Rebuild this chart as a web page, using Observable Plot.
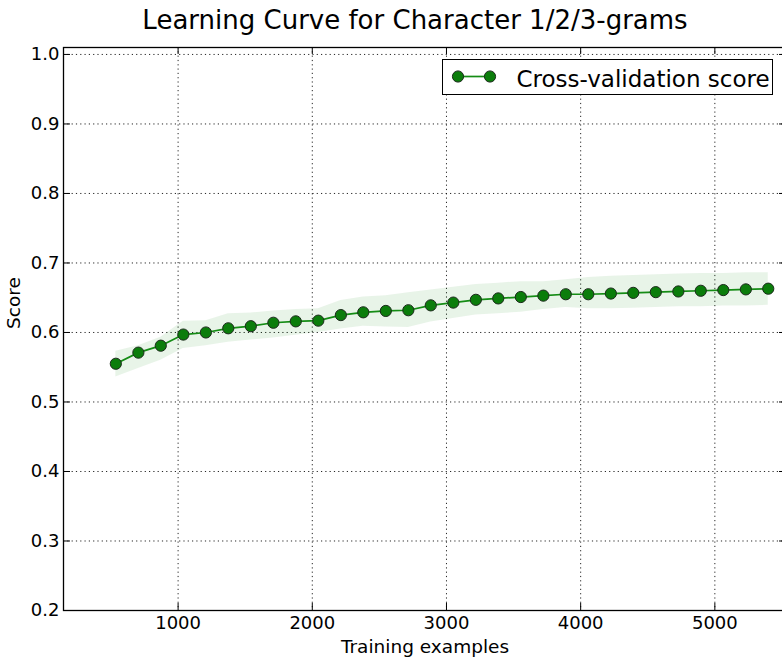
<!DOCTYPE html>
<html><head><meta charset="utf-8">
<script src="https://cdn.jsdelivr.net/npm/d3@7"></script>
<script src="https://cdn.jsdelivr.net/npm/@observablehq/plot@0.6"></script>
<style>
html,body{margin:0;padding:0;background:#fff;overflow:hidden;width:782px;height:659px;}
#wrap{position:relative;width:782px;height:659px;overflow:hidden;font-family:"DejaVu Sans",sans-serif;color:#000;}
#title{position:absolute;left:0;top:7px;width:830px;text-align:center;font-size:26px;line-height:1;white-space:nowrap;}
#chart{position:absolute;left:0;top:40px;width:786px;}
#chart svg{max-width:none !important;width:786px;height:619px;display:block;}
#legend{position:absolute;left:442px;top:59px;width:331px;height:36px;box-sizing:border-box;border:1px solid #000;background:#fff;}
</style>
</head><body>
<div id="wrap">
  <div id="title">Learning Curve for Character 1/2/3-grams</div>
  <div id="chart"></div>
  <div id="legend"></div>
</div>
<script>
const trainSizes = [536, 704, 871, 1039, 1207, 1374, 1542, 1710, 1877, 2045, 2213, 2380, 2548, 2716, 2883,
  3051, 3219, 3386, 3554, 3722, 3889, 4057, 4225, 4392, 4560, 4728, 4895, 5063, 5231, 5398];
const cvScore = [0.555, 0.571, 0.581, 0.597, 0.600, 0.606, 0.609, 0.614, 0.616, 0.617, 0.625, 0.629, 0.631, 0.632, 0.639,
  0.643, 0.647, 0.649, 0.651, 0.653, 0.655, 0.655, 0.656, 0.657, 0.658, 0.659, 0.660, 0.661, 0.662, 0.663];
const cvUpper = [0.573, 0.581, 0.593, 0.616, 0.617, 0.627, 0.628, 0.631, 0.633, 0.634, 0.646, 0.651, 0.653, 0.657, 0.661,
  0.665, 0.669, 0.671, 0.673, 0.673, 0.676, 0.679, 0.681, 0.682, 0.683, 0.684, 0.685, 0.685, 0.686, 0.686];
const cvLower = [0.536, 0.548, 0.560, 0.577, 0.581, 0.586, 0.589, 0.592, 0.596, 0.600, 0.605, 0.609, 0.608, 0.607, 0.615,
  0.620, 0.625, 0.627, 0.629, 0.633, 0.636, 0.634, 0.634, 0.635, 0.636, 0.637, 0.637, 0.638, 0.638, 0.639];
const xTicks = [1000, 2000, 3000, 4000, 5000];
const yTicks = [0.2, 0.3, 0.4, 0.5, 0.6, 0.7, 0.8, 0.9, 1.0];
const seriesName = "Cross-validation score";

const data = trainSizes.map((n, i) => ({n, s: cvScore[i], hi: cvUpper[i], lo: cvLower[i]}));

const W = 786, H = 619, mT = 7, mB = 49, mL = 63, mR = 0;
const pw = W - mL - mR, ph = H - mT - mB, tl = 7;
const grid = {stroke: "#000", strokeOpacity: 0.85, strokeWidth: 1, strokeDasharray: "1.2,3.1"};
const green = "#0b7d0b";

const chart = Plot.plot({
  width: W, height: H,
  marginTop: mT, marginBottom: mB, marginLeft: mL, marginRight: mR,
  style: {fontFamily: "DejaVu Sans, sans-serif", fontSize: "18px", color: "#000", background: "transparent", overflow: "visible"},
  x: {domain: [146, 5534], label: null},
  y: {domain: [0.2, 1.01], label: null},
  marks: [
    Plot.gridX(xTicks, grid),
    Plot.gridY(yTicks, grid),
    Plot.areaY(data, {x: "n", y1: "lo", y2: "hi", fill: "#008000", fillOpacity: 0.09}),
    Plot.line(data, {x: "n", y: "s", stroke: "#158c15", strokeWidth: 1.7}),
    Plot.dot(data, {x: "n", y: "s", r: 5.6, fill: green, stroke: "#1c2a1c", strokeWidth: 1}),
    Plot.tickY(yTicks, {y: d => d, stroke: "#000", insetRight: pw - tl}),
    Plot.tickY(yTicks, {y: d => d, stroke: "#000", insetLeft: pw - tl}),
    Plot.tickX(xTicks, {x: d => d, stroke: "#000", insetBottom: ph - tl}),
    Plot.tickX(xTicks, {x: d => d, stroke: "#000", insetTop: ph - tl}),
    Plot.axisX(xTicks, {tickSize: 0, tickPadding: 6, fontSize: 18, tickFormat: d => String(d), label: null}),
    Plot.axisY(yTicks, {tickSize: 0, tickPadding: 4, fontSize: 18, tickFormat: d => d.toFixed(1), label: null}),
    Plot.frame({stroke: "#000", strokeWidth: 1.3}),
    Plot.text(["Training examples"], {text: d => d, frameAnchor: "bottom", dy: 42, fontSize: 18.5}),
    Plot.text(["Score"], {text: d => d, frameAnchor: "left", rotate: -90, dx: -49.5, fontSize: 18.5})
  ]
});
chart.style.maxWidth = "none";
document.getElementById("chart").appendChild(chart);

// legend
const lg = d3.select("#legend").append("svg").attr("width", 329).attr("height", 34)
  .style("position", "absolute").style("left", "0").style("top", "0");
lg.append("line").attr("x1", 15).attr("x2", 47).attr("y1", 16.5).attr("y2", 16.5)
  .attr("stroke", "#158c15").attr("stroke-width", 1.7);
[15, 47].forEach(cx => lg.append("circle").attr("cx", cx).attr("cy", 16.5).attr("r", 5.6)
  .attr("fill", green).attr("stroke", "#1c2a1c").attr("stroke-width", 1));
lg.append("text").attr("x", 73.5).attr("y", 26.5).attr("font-size", 23)
  .attr("font-family", "DejaVu Sans, sans-serif").attr("fill", "#000").text(seriesName);
</script>
</body></html>
